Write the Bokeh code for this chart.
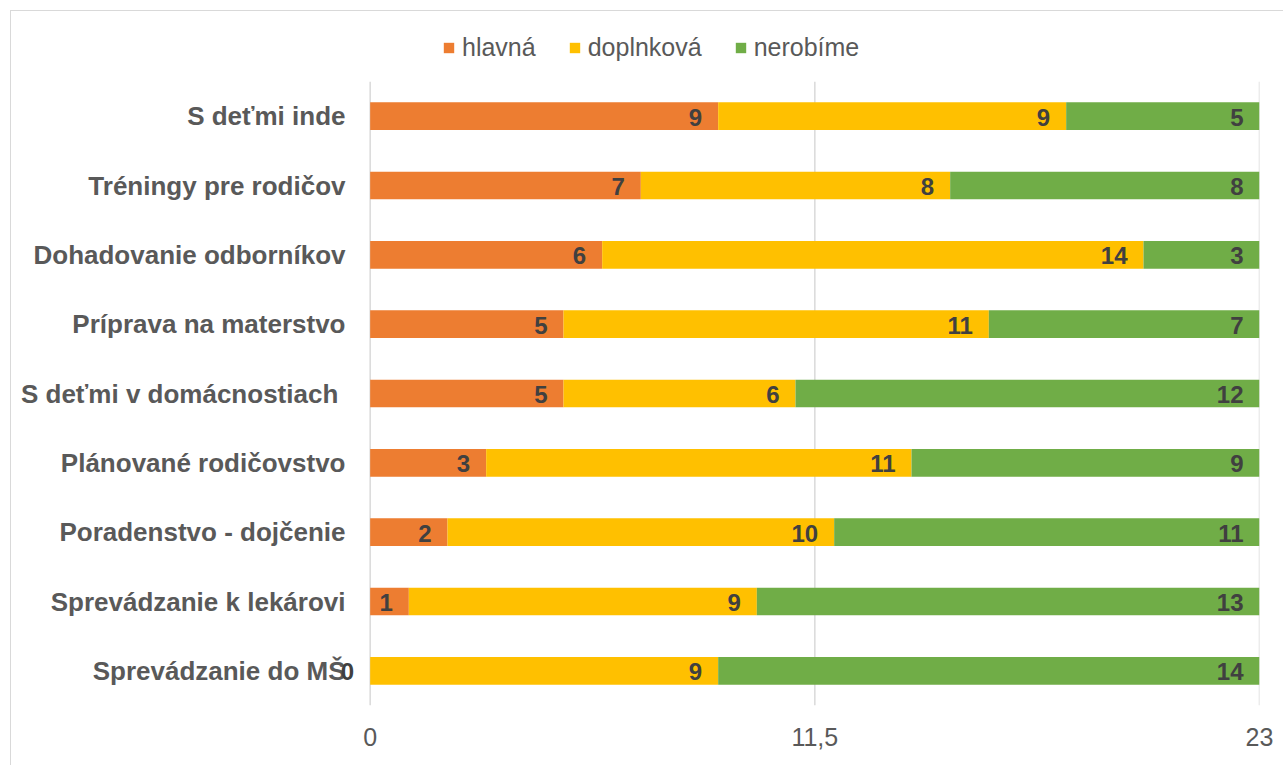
from bokeh.plotting import figure
from bokeh.layouts import column
from bokeh.models import (ColumnDataSource, FactorRange, Range1d, FixedTicker,
                          Legend, LegendItem, LabelSet, Span)
from bokeh.core.properties import value
from bokeh.embed import file_html
from bokeh.resources import INLINE

# ---- data (top to bottom as in the chart) ----
categories = [
    "S deťmi inde",
    "Tréningy pre rodičov",
    "Dohadovanie odborníkov",
    "Príprava na materstvo",
    "S deťmi v domácnostiach ",
    "Plánované rodičovstvo",
    "Poradenstvo - dojčenie",
    "Sprevádzanie k lekárovi",
    "Sprevádzanie do MŠ",
]
hlavna = [9, 7, 6, 5, 5, 3, 2, 1, 0]
doplnkova = [9, 8, 14, 11, 6, 11, 10, 9, 9]
nerobime = [5, 8, 3, 7, 12, 9, 11, 13, 14]
series_names = ["hlavná", "doplnková", "nerobíme"]
series_colors = ["#ED7D31", "#FFC000", "#70AD47"]
x_ticks = [0, 11.5, 23]
x_tick_labels = {0: "0", 11.5: "11,5", 23: "23"}

FONT = "Liberation Sans"
W = 1272

# ---------- legend strip (its proxy bars map outside its view) ----------
pl = figure(width=W, height=70, output_backend="svg", toolbar_location=None,
            x_range=Range1d(1000, 1001),
            y_range=FactorRange(factors=["_"]),
            min_border=0)
pl.axis.visible = False
pl.grid.grid_line_color = None
pl.outline_line_color = None

# ---------- main chart ----------
p = figure(width=W, height=684, output_backend="svg", toolbar_location=None,
           y_range=FactorRange(factors=list(reversed(categories)), range_padding=0),
           x_range=Range1d(-1, 23),
           min_border_left=320, min_border_right=24, min_border_top=0,
           min_border_bottom=60)
p.outline_line_color = None
p.background_fill_color = None
p.border_fill_color = "white"

for t in x_ticks:
    p.add_layout(Span(location=t, dimension="height", line_color="#D9D9D9",
                      line_width=1.5, level="underlay"))

series = [hlavna, doplnkova, nerobime]
left = [0] * len(categories)
items = []
for name, vals, color in zip(series_names, series, series_colors):
    right = [l + v for l, v in zip(left, vals)]
    src = ColumnDataSource(dict(cat=categories, left=left, right=right,
                                lab=[str(v) for v in vals]))
    p.hbar(y="cat", left="left", right="right", height=0.4, source=src,
           fill_color=color, line_color=None)
    proxy = pl.hbar(y="cat", left="left", right="right", height=0.4, source=src,
                    fill_color=color, line_color=None)
    items.append(LegendItem(label=name, renderers=[proxy]))
    p.add_layout(LabelSet(x="right", y="cat", text="lab", source=src,
                          text_align="right", text_baseline="middle",
                          x_offset=-16, y_offset=-1,
                          text_font=value(FONT), text_font_style="bold",
                          text_font_size="24px", text_color="#404040"))
    left = right

p.xaxis.ticker = FixedTicker(ticks=x_ticks)
p.xaxis.major_label_overrides = x_tick_labels
p.xaxis.axis_line_color = None
p.xaxis.major_tick_line_color = None
p.xaxis.minor_tick_line_color = None
p.xaxis.major_label_standoff = 16
p.xaxis.major_label_text_font = FONT
p.xaxis.major_label_text_font_size = "25px"
p.xaxis.major_label_text_color = "#595959"

p.yaxis.axis_line_color = None
p.yaxis.major_tick_line_color = None
p.yaxis.major_tick_in = 0
p.yaxis.major_tick_out = 0
p.yaxis.major_label_standoff = -14
p.yaxis.major_label_text_font = FONT
p.yaxis.major_label_text_font_style = "bold"
p.yaxis.major_label_text_font_size = "26px"
p.yaxis.major_label_text_color = "#595959"

p.xgrid.grid_line_color = None
p.ygrid.grid_line_color = None

legend = Legend(items=items, orientation="horizontal", location=(111, 19),
                glyph_width=13, glyph_height=13, label_standoff=7, spacing=32,
                padding=0, margin=0, border_line_color=None,
                background_fill_alpha=0,
                label_text_font=FONT, label_text_font_size="25px",
                label_text_color="#595959")
pl.add_layout(legend, "center")

layout = column(pl, p, spacing=0,
                styles={"margin-left": "10px", "margin-top": "10px",
                        "border-left": "1.5px solid #D9D9D9",
                        "border-top": "1.5px solid #D9D9D9"})

open("out.html", "w").write(file_html(layout, INLINE))
